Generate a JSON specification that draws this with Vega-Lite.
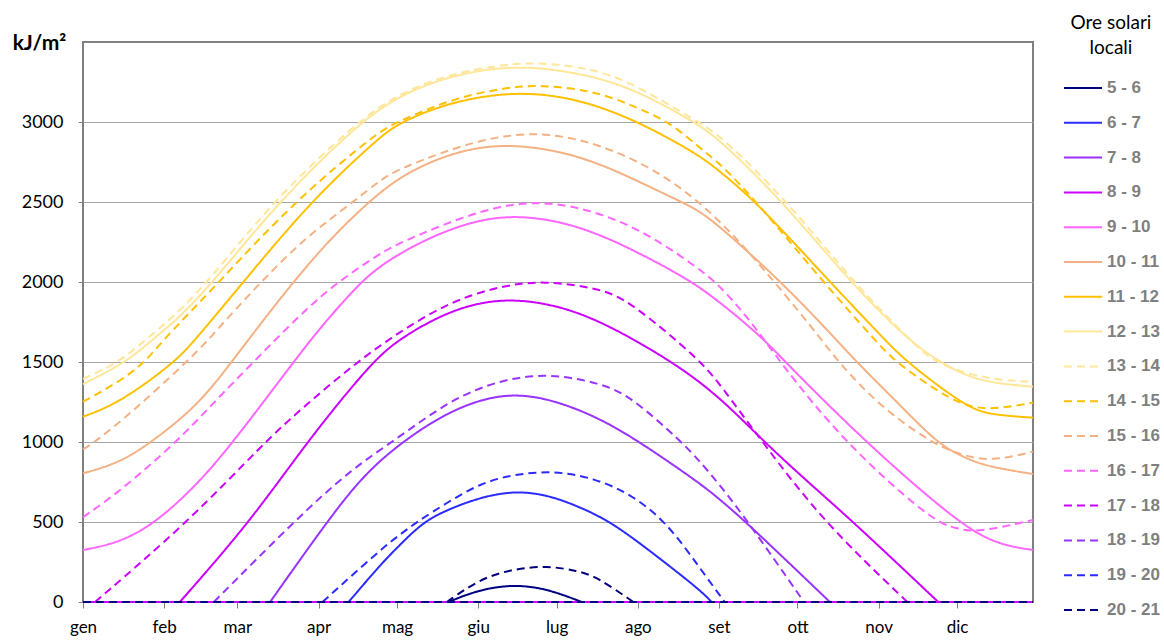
{
  "$schema": "https://vega.github.io/schema/vega-lite/v6.json",
  "width": 950,
  "height": 560,
  "autosize": {"type": "none"},
  "padding": {"left": 83, "top": 42, "right": 131, "bottom": 39},
  "background": "white",
  "config": {
    "view": {"stroke": "#808080", "strokeWidth": 2},
    "axis": {"labelFont": "Lato", "labelFontSize": 17, "labelColor": "#000000", "tickColor": "#808080", "domain": false}
  },
  "datasets": {
    "serie": [
      {"giorno": 1, "kJ": 0, "ore": "5 - 6", "tratto": "base"},
      {"giorno": 364, "kJ": 0, "ore": "5 - 6", "tratto": "base"},
      {"giorno": 140.6, "kJ": 0, "ore": "5 - 6", "tratto": "curva"},
      {"giorno": 152, "kJ": 75, "ore": "5 - 6", "tratto": "curva"},
      {"giorno": 165, "kJ": 110, "ore": "5 - 6", "tratto": "curva"},
      {"giorno": 178, "kJ": 85, "ore": "5 - 6", "tratto": "curva"},
      {"giorno": 191.6, "kJ": 0, "ore": "5 - 6", "tratto": "curva"},

      {"giorno": 1, "kJ": 0, "ore": "6 - 7", "tratto": "base"},
      {"giorno": 364, "kJ": 0, "ore": "6 - 7", "tratto": "base"},
      {"giorno": 102.5, "kJ": 0, "ore": "6 - 7", "tratto": "curva"},
      {"giorno": 114.5, "kJ": 231, "ore": "6 - 7", "tratto": "curva"},
      {"giorno": 122, "kJ": 356, "ore": "6 - 7", "tratto": "curva"},
      {"giorno": 131, "kJ": 500, "ore": "6 - 7", "tratto": "curva"},
      {"giorno": 140, "kJ": 575, "ore": "6 - 7", "tratto": "curva"},
      {"giorno": 152, "kJ": 650, "ore": "6 - 7", "tratto": "curva"},
      {"giorno": 165.3, "kJ": 695, "ore": "6 - 7", "tratto": "curva"},
      {"giorno": 178, "kJ": 672, "ore": "6 - 7", "tratto": "curva"},
      {"giorno": 190, "kJ": 600, "ore": "6 - 7", "tratto": "curva"},
      {"giorno": 203, "kJ": 500, "ore": "6 - 7", "tratto": "curva"},
      {"giorno": 220, "kJ": 290, "ore": "6 - 7", "tratto": "curva"},
      {"giorno": 236.8, "kJ": 75, "ore": "6 - 7", "tratto": "curva"},
      {"giorno": 241.2, "kJ": 0, "ore": "6 - 7", "tratto": "curva"},

      {"giorno": 1, "kJ": 0, "ore": "7 - 8", "tratto": "base"},
      {"giorno": 364, "kJ": 0, "ore": "7 - 8", "tratto": "base"},
      {"giorno": 72.5, "kJ": 0, "ore": "7 - 8", "tratto": "curva"},
      {"giorno": 94.1, "kJ": 500, "ore": "7 - 8", "tratto": "curva"},
      {"giorno": 108, "kJ": 790, "ore": "7 - 8", "tratto": "curva"},
      {"giorno": 122.1, "kJ": 992, "ore": "7 - 8", "tratto": "curva"},
      {"giorno": 141.2, "kJ": 1200, "ore": "7 - 8", "tratto": "curva"},
      {"giorno": 161.5, "kJ": 1310, "ore": "7 - 8", "tratto": "curva"},
      {"giorno": 179.5, "kJ": 1273, "ore": "7 - 8", "tratto": "curva"},
      {"giorno": 198.6, "kJ": 1148, "ore": "7 - 8", "tratto": "curva"},
      {"giorno": 213.8, "kJ": 1000, "ore": "7 - 8", "tratto": "curva"},
      {"giorno": 236.8, "kJ": 742, "ore": "7 - 8", "tratto": "curva"},
      {"giorno": 244.4, "kJ": 640, "ore": "7 - 8", "tratto": "curva"},
      {"giorno": 254.4, "kJ": 500, "ore": "7 - 8", "tratto": "curva"},
      {"giorno": 286.4, "kJ": 0, "ore": "7 - 8", "tratto": "curva"},

      {"giorno": 1, "kJ": 0, "ore": "8 - 9", "tratto": "base"},
      {"giorno": 364, "kJ": 0, "ore": "8 - 9", "tratto": "base"},
      {"giorno": 38, "kJ": 0, "ore": "8 - 9", "tratto": "curva"},
      {"giorno": 64.8, "kJ": 500, "ore": "8 - 9", "tratto": "curva"},
      {"giorno": 86.5, "kJ": 1000, "ore": "8 - 9", "tratto": "curva"},
      {"giorno": 111.3, "kJ": 1500, "ore": "8 - 9", "tratto": "curva"},
      {"giorno": 122.1, "kJ": 1648, "ore": "8 - 9", "tratto": "curva"},
      {"giorno": 141.2, "kJ": 1825, "ore": "8 - 9", "tratto": "curva"},
      {"giorno": 160.3, "kJ": 1900, "ore": "8 - 9", "tratto": "curva"},
      {"giorno": 179.5, "kJ": 1867, "ore": "8 - 9", "tratto": "curva"},
      {"giorno": 198.6, "kJ": 1762, "ore": "8 - 9", "tratto": "curva"},
      {"giorno": 226.6, "kJ": 1500, "ore": "8 - 9", "tratto": "curva"},
      {"giorno": 244.4, "kJ": 1280, "ore": "8 - 9", "tratto": "curva"},
      {"giorno": 261.3, "kJ": 1000, "ore": "8 - 9", "tratto": "curva"},
      {"giorno": 278, "kJ": 750, "ore": "8 - 9", "tratto": "curva"},
      {"giorno": 295.4, "kJ": 500, "ore": "8 - 9", "tratto": "curva"},
      {"giorno": 327.8, "kJ": 0, "ore": "8 - 9", "tratto": "curva"},

      {"giorno": 1, "kJ": 325, "ore": "9 - 10", "tratto": "curva"},
      {"giorno": 15, "kJ": 370, "ore": "9 - 10", "tratto": "curva"},
      {"giorno": 29.2, "kJ": 500, "ore": "9 - 10", "tratto": "curva"},
      {"giorno": 45, "kJ": 740, "ore": "9 - 10", "tratto": "curva"},
      {"giorno": 58.5, "kJ": 1000, "ore": "9 - 10", "tratto": "curva"},
      {"giorno": 83.9, "kJ": 1554, "ore": "9 - 10", "tratto": "curva"},
      {"giorno": 94.1, "kJ": 1762, "ore": "9 - 10", "tratto": "curva"},
      {"giorno": 106.1, "kJ": 1980, "ore": "9 - 10", "tratto": "curva"},
      {"giorno": 112.6, "kJ": 2075, "ore": "9 - 10", "tratto": "curva"},
      {"giorno": 122, "kJ": 2181, "ore": "9 - 10", "tratto": "curva"},
      {"giorno": 140, "kJ": 2330, "ore": "9 - 10", "tratto": "curva"},
      {"giorno": 162.9, "kJ": 2435, "ore": "9 - 10", "tratto": "curva"},
      {"giorno": 190.9, "kJ": 2360, "ore": "9 - 10", "tratto": "curva"},
      {"giorno": 216.4, "kJ": 2158, "ore": "9 - 10", "tratto": "curva"},
      {"giorno": 230, "kJ": 2035, "ore": "9 - 10", "tratto": "curva"},
      {"giorno": 236.8, "kJ": 1964, "ore": "9 - 10", "tratto": "curva"},
      {"giorno": 244.4, "kJ": 1873, "ore": "9 - 10", "tratto": "curva"},
      {"giorno": 260.3, "kJ": 1658, "ore": "9 - 10", "tratto": "curva"},
      {"giorno": 269.3, "kJ": 1500, "ore": "9 - 10", "tratto": "curva"},
      {"giorno": 299.9, "kJ": 1000, "ore": "9 - 10", "tratto": "curva"},
      {"giorno": 334.9, "kJ": 500, "ore": "9 - 10", "tratto": "curva"},
      {"giorno": 350, "kJ": 360, "ore": "9 - 10", "tratto": "curva"},
      {"giorno": 364, "kJ": 325, "ore": "9 - 10", "tratto": "curva"},

      {"giorno": 1, "kJ": 804, "ore": "10 - 11", "tratto": "curva"},
      {"giorno": 15, "kJ": 870, "ore": "10 - 11", "tratto": "curva"},
      {"giorno": 27.3, "kJ": 1000, "ore": "10 - 11", "tratto": "curva"},
      {"giorno": 45, "kJ": 1230, "ore": "10 - 11", "tratto": "curva"},
      {"giorno": 57.8, "kJ": 1500, "ore": "10 - 11", "tratto": "curva"},
      {"giorno": 69.9, "kJ": 1762, "ore": "10 - 11", "tratto": "curva"},
      {"giorno": 81.4, "kJ": 2000, "ore": "10 - 11", "tratto": "curva"},
      {"giorno": 95, "kJ": 2262, "ore": "10 - 11", "tratto": "curva"},
      {"giorno": 109.4, "kJ": 2490, "ore": "10 - 11", "tratto": "curva"},
      {"giorno": 122, "kJ": 2660, "ore": "10 - 11", "tratto": "curva"},
      {"giorno": 140, "kJ": 2800, "ore": "10 - 11", "tratto": "curva"},
      {"giorno": 161.5, "kJ": 2875, "ore": "10 - 11", "tratto": "curva"},
      {"giorno": 190.9, "kJ": 2800, "ore": "10 - 11", "tratto": "curva"},
      {"giorno": 216.4, "kJ": 2604, "ore": "10 - 11", "tratto": "curva"},
      {"giorno": 229.8, "kJ": 2500, "ore": "10 - 11", "tratto": "curva"},
      {"giorno": 236.8, "kJ": 2440, "ore": "10 - 11", "tratto": "curva"},
      {"giorno": 244.4, "kJ": 2346, "ore": "10 - 11", "tratto": "curva"},
      {"giorno": 268, "kJ": 2000, "ore": "10 - 11", "tratto": "curva"},
      {"giorno": 289, "kJ": 1637, "ore": "10 - 11", "tratto": "curva"},
      {"giorno": 296.6, "kJ": 1500, "ore": "10 - 11", "tratto": "curva"},
      {"giorno": 312, "kJ": 1250, "ore": "10 - 11", "tratto": "curva"},
      {"giorno": 327, "kJ": 1000, "ore": "10 - 11", "tratto": "curva"},
      {"giorno": 335, "kJ": 925, "ore": "10 - 11", "tratto": "curva"},
      {"giorno": 345, "kJ": 850, "ore": "10 - 11", "tratto": "curva"},
      {"giorno": 364, "kJ": 800, "ore": "10 - 11", "tratto": "curva"},

      {"giorno": 1, "kJ": 1158, "ore": "11 - 12", "tratto": "curva"},
      {"giorno": 15, "kJ": 1245, "ore": "11 - 12", "tratto": "curva"},
      {"giorno": 36.2, "kJ": 1500, "ore": "11 - 12", "tratto": "curva"},
      {"giorno": 43.8, "kJ": 1637, "ore": "11 - 12", "tratto": "curva"},
      {"giorno": 62.3, "kJ": 2000, "ore": "11 - 12", "tratto": "curva"},
      {"giorno": 87.7, "kJ": 2500, "ore": "11 - 12", "tratto": "curva"},
      {"giorno": 114.5, "kJ": 2910, "ore": "11 - 12", "tratto": "curva"},
      {"giorno": 122, "kJ": 2995, "ore": "11 - 12", "tratto": "curva"},
      {"giorno": 140, "kJ": 3120, "ore": "11 - 12", "tratto": "curva"},
      {"giorno": 165.3, "kJ": 3195, "ore": "11 - 12", "tratto": "curva"},
      {"giorno": 190, "kJ": 3150, "ore": "11 - 12", "tratto": "curva"},
      {"giorno": 213.8, "kJ": 3000, "ore": "11 - 12", "tratto": "curva"},
      {"giorno": 236.8, "kJ": 2790, "ore": "11 - 12", "tratto": "curva"},
      {"giorno": 244.4, "kJ": 2690, "ore": "11 - 12", "tratto": "curva"},
      {"giorno": 258.4, "kJ": 2500, "ore": "11 - 12", "tratto": "curva"},
      {"giorno": 286.4, "kJ": 2000, "ore": "11 - 12", "tratto": "curva"},
      {"giorno": 307.5, "kJ": 1637, "ore": "11 - 12", "tratto": "curva"},
      {"giorno": 315.7, "kJ": 1500, "ore": "11 - 12", "tratto": "curva"},
      {"giorno": 338.7, "kJ": 1215, "ore": "11 - 12", "tratto": "curva"},
      {"giorno": 348, "kJ": 1170, "ore": "11 - 12", "tratto": "curva"},
      {"giorno": 364, "kJ": 1152, "ore": "11 - 12", "tratto": "curva"},

      {"giorno": 1, "kJ": 1362, "ore": "12 - 13", "tratto": "curva"},
      {"giorno": 17.7, "kJ": 1500, "ore": "12 - 13", "tratto": "curva"},
      {"giorno": 27.3, "kJ": 1637, "ore": "12 - 13", "tratto": "curva"},
      {"giorno": 36.8, "kJ": 1762, "ore": "12 - 13", "tratto": "curva"},
      {"giorno": 50.8, "kJ": 2000, "ore": "12 - 13", "tratto": "curva"},
      {"giorno": 75.5, "kJ": 2500, "ore": "12 - 13", "tratto": "curva"},
      {"giorno": 106.8, "kJ": 3000, "ore": "12 - 13", "tratto": "curva"},
      {"giorno": 122, "kJ": 3165, "ore": "12 - 13", "tratto": "curva"},
      {"giorno": 140, "kJ": 3285, "ore": "12 - 13", "tratto": "curva"},
      {"giorno": 165, "kJ": 3360, "ore": "12 - 13", "tratto": "curva"},
      {"giorno": 190, "kJ": 3310, "ore": "12 - 13", "tratto": "curva"},
      {"giorno": 210, "kJ": 3220, "ore": "12 - 13", "tratto": "curva"},
      {"giorno": 234.9, "kJ": 3000, "ore": "12 - 13", "tratto": "curva"},
      {"giorno": 244.4, "kJ": 2888, "ore": "12 - 13", "tratto": "curva"},
      {"giorno": 268.6, "kJ": 2500, "ore": "12 - 13", "tratto": "curva"},
      {"giorno": 294.1, "kJ": 2000, "ore": "12 - 13", "tratto": "curva"},
      {"giorno": 316.2, "kJ": 1637, "ore": "12 - 13", "tratto": "curva"},
      {"giorno": 328.5, "kJ": 1500, "ore": "12 - 13", "tratto": "curva"},
      {"giorno": 338.7, "kJ": 1410, "ore": "12 - 13", "tratto": "curva"},
      {"giorno": 350, "kJ": 1365, "ore": "12 - 13", "tratto": "curva"},
      {"giorno": 364, "kJ": 1346, "ore": "12 - 13", "tratto": "curva"},

      {"giorno": 1, "kJ": 1395, "ore": "13 - 14", "tratto": "curva"},
      {"giorno": 15, "kJ": 1500, "ore": "13 - 14", "tratto": "curva"},
      {"giorno": 24.7, "kJ": 1637, "ore": "13 - 14", "tratto": "curva"},
      {"giorno": 34.2, "kJ": 1762, "ore": "13 - 14", "tratto": "curva"},
      {"giorno": 48.9, "kJ": 2000, "ore": "13 - 14", "tratto": "curva"},
      {"giorno": 73.1, "kJ": 2500, "ore": "13 - 14", "tratto": "curva"},
      {"giorno": 105.6, "kJ": 3000, "ore": "13 - 14", "tratto": "curva"},
      {"giorno": 122, "kJ": 3179, "ore": "13 - 14", "tratto": "curva"},
      {"giorno": 140, "kJ": 3295, "ore": "13 - 14", "tratto": "curva"},
      {"giorno": 160, "kJ": 3355, "ore": "13 - 14", "tratto": "curva"},
      {"giorno": 174.5, "kJ": 3375, "ore": "13 - 14", "tratto": "curva"},
      {"giorno": 196, "kJ": 3335, "ore": "13 - 14", "tratto": "curva"},
      {"giorno": 212, "kJ": 3235, "ore": "13 - 14", "tratto": "curva"},
      {"giorno": 236, "kJ": 3000, "ore": "13 - 14", "tratto": "curva"},
      {"giorno": 244.4, "kJ": 2919, "ore": "13 - 14", "tratto": "curva"},
      {"giorno": 270.4, "kJ": 2500, "ore": "13 - 14", "tratto": "curva"},
      {"giorno": 295.2, "kJ": 2000, "ore": "13 - 14", "tratto": "curva"},
      {"giorno": 317, "kJ": 1637, "ore": "13 - 14", "tratto": "curva"},
      {"giorno": 325.8, "kJ": 1500, "ore": "13 - 14", "tratto": "curva"},
      {"giorno": 340, "kJ": 1420, "ore": "13 - 14", "tratto": "curva"},
      {"giorno": 352, "kJ": 1385, "ore": "13 - 14", "tratto": "curva"},
      {"giorno": 364, "kJ": 1377, "ore": "13 - 14", "tratto": "curva"},

      {"giorno": 1, "kJ": 1252, "ore": "14 - 15", "tratto": "curva"},
      {"giorno": 15, "kJ": 1377, "ore": "14 - 15", "tratto": "curva"},
      {"giorno": 24.7, "kJ": 1500, "ore": "14 - 15", "tratto": "curva"},
      {"giorno": 31.7, "kJ": 1637, "ore": "14 - 15", "tratto": "curva"},
      {"giorno": 39, "kJ": 1762, "ore": "14 - 15", "tratto": "curva"},
      {"giorno": 53, "kJ": 2000, "ore": "14 - 15", "tratto": "curva"},
      {"giorno": 81.4, "kJ": 2500, "ore": "14 - 15", "tratto": "curva"},
      {"giorno": 114.5, "kJ": 2950, "ore": "14 - 15", "tratto": "curva"},
      {"giorno": 121.5, "kJ": 3000, "ore": "14 - 15", "tratto": "curva"},
      {"giorno": 140, "kJ": 3135, "ore": "14 - 15", "tratto": "curva"},
      {"giorno": 160, "kJ": 3210, "ore": "14 - 15", "tratto": "curva"},
      {"giorno": 175.6, "kJ": 3235, "ore": "14 - 15", "tratto": "curva"},
      {"giorno": 196, "kJ": 3195, "ore": "14 - 15", "tratto": "curva"},
      {"giorno": 210, "kJ": 3110, "ore": "14 - 15", "tratto": "curva"},
      {"giorno": 225.3, "kJ": 3000, "ore": "14 - 15", "tratto": "curva"},
      {"giorno": 236.8, "kJ": 2835, "ore": "14 - 15", "tratto": "curva"},
      {"giorno": 244.4, "kJ": 2742, "ore": "14 - 15", "tratto": "curva"},
      {"giorno": 258.5, "kJ": 2500, "ore": "14 - 15", "tratto": "curva"},
      {"giorno": 283.8, "kJ": 2000, "ore": "14 - 15", "tratto": "curva"},
      {"giorno": 303.6, "kJ": 1637, "ore": "14 - 15", "tratto": "curva"},
      {"giorno": 311.3, "kJ": 1500, "ore": "14 - 15", "tratto": "curva"},
      {"giorno": 330, "kJ": 1290, "ore": "14 - 15", "tratto": "curva"},
      {"giorno": 338.7, "kJ": 1225, "ore": "14 - 15", "tratto": "curva"},
      {"giorno": 348, "kJ": 1200, "ore": "14 - 15", "tratto": "curva"},
      {"giorno": 364, "kJ": 1246, "ore": "14 - 15", "tratto": "curva"},

      {"giorno": 1, "kJ": 954, "ore": "15 - 16", "tratto": "curva"},
      {"giorno": 5.6, "kJ": 1000, "ore": "15 - 16", "tratto": "curva"},
      {"giorno": 20, "kJ": 1190, "ore": "15 - 16", "tratto": "curva"},
      {"giorno": 40.6, "kJ": 1500, "ore": "15 - 16", "tratto": "curva"},
      {"giorno": 48.9, "kJ": 1637, "ore": "15 - 16", "tratto": "curva"},
      {"giorno": 55.5, "kJ": 1762, "ore": "15 - 16", "tratto": "curva"},
      {"giorno": 69, "kJ": 2000, "ore": "15 - 16", "tratto": "curva"},
      {"giorno": 86, "kJ": 2280, "ore": "15 - 16", "tratto": "curva"},
      {"giorno": 104.3, "kJ": 2500, "ore": "15 - 16", "tratto": "curva"},
      {"giorno": 114.5, "kJ": 2637, "ore": "15 - 16", "tratto": "curva"},
      {"giorno": 122, "kJ": 2710, "ore": "15 - 16", "tratto": "curva"},
      {"giorno": 152.7, "kJ": 2900, "ore": "15 - 16", "tratto": "curva"},
      {"giorno": 179.5, "kJ": 2950, "ore": "15 - 16", "tratto": "curva"},
      {"giorno": 210, "kJ": 2800, "ore": "15 - 16", "tratto": "curva"},
      {"giorno": 238.7, "kJ": 2500, "ore": "15 - 16", "tratto": "curva"},
      {"giorno": 265.4, "kJ": 2000, "ore": "15 - 16", "tratto": "curva"},
      {"giorno": 283.4, "kJ": 1637, "ore": "15 - 16", "tratto": "curva"},
      {"giorno": 289.6, "kJ": 1500, "ore": "15 - 16", "tratto": "curva"},
      {"giorno": 305, "kJ": 1230, "ore": "15 - 16", "tratto": "curva"},
      {"giorno": 324.6, "kJ": 1000, "ore": "15 - 16", "tratto": "curva"},
      {"giorno": 336, "kJ": 920, "ore": "15 - 16", "tratto": "curva"},
      {"giorno": 348, "kJ": 877, "ore": "15 - 16", "tratto": "curva"},
      {"giorno": 364, "kJ": 940, "ore": "15 - 16", "tratto": "curva"},

      {"giorno": 1, "kJ": 530, "ore": "16 - 17", "tratto": "curva"},
      {"giorno": 15, "kJ": 690, "ore": "16 - 17", "tratto": "curva"},
      {"giorno": 36.8, "kJ": 1000, "ore": "16 - 17", "tratto": "curva"},
      {"giorno": 50, "kJ": 1230, "ore": "16 - 17", "tratto": "curva"},
      {"giorno": 66.1, "kJ": 1500, "ore": "16 - 17", "tratto": "curva"},
      {"giorno": 83.9, "kJ": 1794, "ore": "16 - 17", "tratto": "curva"},
      {"giorno": 96.6, "kJ": 1980, "ore": "16 - 17", "tratto": "curva"},
      {"giorno": 114.5, "kJ": 2180, "ore": "16 - 17", "tratto": "curva"},
      {"giorno": 122, "kJ": 2245, "ore": "16 - 17", "tratto": "curva"},
      {"giorno": 152.7, "kJ": 2455, "ore": "16 - 17", "tratto": "curva"},
      {"giorno": 178.2, "kJ": 2525, "ore": "16 - 17", "tratto": "curva"},
      {"giorno": 210, "kJ": 2380, "ore": "16 - 17", "tratto": "curva"},
      {"giorno": 236.8, "kJ": 2080, "ore": "16 - 17", "tratto": "curva"},
      {"giorno": 244.4, "kJ": 1975, "ore": "16 - 17", "tratto": "curva"},
      {"giorno": 256, "kJ": 1760, "ore": "16 - 17", "tratto": "curva"},
      {"giorno": 267.3, "kJ": 1500, "ore": "16 - 17", "tratto": "curva"},
      {"giorno": 291.6, "kJ": 1000, "ore": "16 - 17", "tratto": "curva"},
      {"giorno": 325.9, "kJ": 500, "ore": "16 - 17", "tratto": "curva"},
      {"giorno": 334.8, "kJ": 460, "ore": "16 - 17", "tratto": "curva"},
      {"giorno": 342.5, "kJ": 433, "ore": "16 - 17", "tratto": "curva"},
      {"giorno": 364, "kJ": 512, "ore": "16 - 17", "tratto": "curva"},

      {"giorno": 1, "kJ": 0, "ore": "17 - 18", "tratto": "base"},
      {"giorno": 364, "kJ": 0, "ore": "17 - 18", "tratto": "base"},
      {"giorno": 5.6, "kJ": 0, "ore": "17 - 18", "tratto": "curva"},
      {"giorno": 41.2, "kJ": 500, "ore": "17 - 18", "tratto": "curva"},
      {"giorno": 70.5, "kJ": 1000, "ore": "17 - 18", "tratto": "curva"},
      {"giorno": 83.9, "kJ": 1200, "ore": "17 - 18", "tratto": "curva"},
      {"giorno": 105.6, "kJ": 1500, "ore": "17 - 18", "tratto": "curva"},
      {"giorno": 122.1, "kJ": 1690, "ore": "17 - 18", "tratto": "curva"},
      {"giorno": 141.2, "kJ": 1877, "ore": "17 - 18", "tratto": "curva"},
      {"giorno": 160.3, "kJ": 1975, "ore": "17 - 18", "tratto": "curva"},
      {"giorno": 176.9, "kJ": 2010, "ore": "17 - 18", "tratto": "curva"},
      {"giorno": 198.6, "kJ": 1960, "ore": "17 - 18", "tratto": "curva"},
      {"giorno": 210, "kJ": 1880, "ore": "17 - 18", "tratto": "curva"},
      {"giorno": 236.8, "kJ": 1512, "ore": "17 - 18", "tratto": "curva"},
      {"giorno": 244.4, "kJ": 1360, "ore": "17 - 18", "tratto": "curva"},
      {"giorno": 260.6, "kJ": 1000, "ore": "17 - 18", "tratto": "curva"},
      {"giorno": 283.9, "kJ": 500, "ore": "17 - 18", "tratto": "curva"},
      {"giorno": 316, "kJ": 0, "ore": "17 - 18", "tratto": "curva"},

      {"giorno": 1, "kJ": 0, "ore": "18 - 19", "tratto": "base"},
      {"giorno": 364, "kJ": 0, "ore": "18 - 19", "tratto": "base"},
      {"giorno": 51, "kJ": 0, "ore": "18 - 19", "tratto": "curva"},
      {"giorno": 81.4, "kJ": 500, "ore": "18 - 19", "tratto": "curva"},
      {"giorno": 103, "kJ": 825, "ore": "18 - 19", "tratto": "curva"},
      {"giorno": 122.1, "kJ": 1033, "ore": "18 - 19", "tratto": "curva"},
      {"giorno": 141.2, "kJ": 1262, "ore": "18 - 19", "tratto": "curva"},
      {"giorno": 160.3, "kJ": 1390, "ore": "18 - 19", "tratto": "curva"},
      {"giorno": 179.5, "kJ": 1430, "ore": "18 - 19", "tratto": "curva"},
      {"giorno": 198.6, "kJ": 1367, "ore": "18 - 19", "tratto": "curva"},
      {"giorno": 210, "kJ": 1290, "ore": "18 - 19", "tratto": "curva"},
      {"giorno": 229.8, "kJ": 1000, "ore": "18 - 19", "tratto": "curva"},
      {"giorno": 236.8, "kJ": 877, "ore": "18 - 19", "tratto": "curva"},
      {"giorno": 244.4, "kJ": 730, "ore": "18 - 19", "tratto": "curva"},
      {"giorno": 255.2, "kJ": 500, "ore": "18 - 19", "tratto": "curva"},
      {"giorno": 276.5, "kJ": 0, "ore": "18 - 19", "tratto": "curva"},

      {"giorno": 1, "kJ": 0, "ore": "19 - 20", "tratto": "base"},
      {"giorno": 364, "kJ": 0, "ore": "19 - 20", "tratto": "base"},
      {"giorno": 92.5, "kJ": 0, "ore": "19 - 20", "tratto": "curva"},
      {"giorno": 114.5, "kJ": 325, "ore": "19 - 20", "tratto": "curva"},
      {"giorno": 122, "kJ": 420, "ore": "19 - 20", "tratto": "curva"},
      {"giorno": 128.5, "kJ": 500, "ore": "19 - 20", "tratto": "curva"},
      {"giorno": 140, "kJ": 620, "ore": "19 - 20", "tratto": "curva"},
      {"giorno": 152.7, "kJ": 742, "ore": "19 - 20", "tratto": "curva"},
      {"giorno": 166, "kJ": 800, "ore": "19 - 20", "tratto": "curva"},
      {"giorno": 181.4, "kJ": 820, "ore": "19 - 20", "tratto": "curva"},
      {"giorno": 196, "kJ": 775, "ore": "19 - 20", "tratto": "curva"},
      {"giorno": 210, "kJ": 679, "ore": "19 - 20", "tratto": "curva"},
      {"giorno": 224, "kJ": 500, "ore": "19 - 20", "tratto": "curva"},
      {"giorno": 236.8, "kJ": 210, "ore": "19 - 20", "tratto": "curva"},
      {"giorno": 246.2, "kJ": 0, "ore": "19 - 20", "tratto": "curva"},

      {"giorno": 1, "kJ": 0, "ore": "20 - 21", "tratto": "base"},
      {"giorno": 364, "kJ": 0, "ore": "20 - 21", "tratto": "base"},
      {"giorno": 140, "kJ": 0, "ore": "20 - 21", "tratto": "curva"},
      {"giorno": 152.7, "kJ": 145, "ore": "20 - 21", "tratto": "curva"},
      {"giorno": 165, "kJ": 205, "ore": "20 - 21", "tratto": "curva"},
      {"giorno": 178.2, "kJ": 228, "ore": "20 - 21", "tratto": "curva"},
      {"giorno": 190, "kJ": 195, "ore": "20 - 21", "tratto": "curva"},
      {"giorno": 197.3, "kJ": 158, "ore": "20 - 21", "tratto": "curva"},
      {"giorno": 211.3, "kJ": 0, "ore": "20 - 21", "tratto": "curva"}
    ]
  },
  "data": {"name": "serie"},
  "mark": {"type": "line", "interpolate": "basis", "strokeWidth": 2},
  "encoding": {
    "x": {
      "field": "giorno",
      "type": "quantitative",
      "scale": {"domain": [1, 364], "nice": false, "zero": false},
      "axis": {
        "values": [1, 32, 60, 91, 121, 152, 182, 213, 244, 274, 305, 335],
        "labelExpr": "['gen','feb','mar','apr','mag','giu','lug','ago','set','ott','nov','dic'][indexof([1,32,60,91,121,152,182,213,244,274,305,335], datum.value)]",
        "grid": false,
        "title": null,
        "tickSize": 6,
        "labelPadding": 11,
        "labelFontSize": 17,
        "labelFlush": false,
        "labelOverlap": false
      }
    },
    "y": {
      "field": "kJ",
      "type": "quantitative",
      "scale": {"domain": [0, 3500], "nice": false},
      "axis": {
        "values": [0, 500, 1000, 1500, 2000, 2500, 3000],
        "format": "d",
        "grid": true,
        "gridColor": "#a6a6a6",
        "gridWidth": 1,
        "tickSize": 5,
        "labelPadding": 15,
        "labelFontSize": 18,
        "title": "kJ/m²",
        "titleAngle": 0,
        "titleX": -44,
        "titleY": 1,
        "titleAlign": "center",
        "titleBaseline": "middle",
        "titleFont": "Lato",
        "titleFontSize": 21,
        "titleFontWeight": "bold",
        "titleColor": "#000000"
      }
    },
    "color": {
      "field": "ore",
      "type": "nominal",
      "scale": {
        "domain": ["5 - 6", "6 - 7", "7 - 8", "8 - 9", "9 - 10", "10 - 11", "11 - 12", "12 - 13", "13 - 14", "14 - 15", "15 - 16", "16 - 17", "17 - 18", "18 - 19", "19 - 20", "20 - 21"],
        "range": ["#000080", "#2B2BFF", "#9933FF", "#CC00FF", "#FF66FF", "#F4B183", "#FFC000", "#FFE699", "#FFE699", "#FFC000", "#F4B183", "#FF66FF", "#CC00FF", "#9933FF", "#2B2BFF", "#000080"]
      },
      "legend": {
        "title": ["Ore solari", "locali"],
        "orient": "none",
        "legendX": 980,
        "legendY": -28,
        "padding": 0,
        "symbolType": "stroke",
        "symbolSize": 1444,
        "symbolStrokeWidth": 2,
        "clipHeight": 20,
        "rowPadding": 14.8,
        "labelFont": "Liberation Sans",
        "labelFontWeight": "bold",
        "labelFontSize": 17,
        "labelColor": "#7f7f7f",
        "labelOffset": 4,
        "titleFont": "Lato",
        "titleFontSize": 19,
        "titleFontWeight": "normal",
        "titleColor": "#000000",
        "titleAnchor": "middle",
        "titleAlign": "center",
        "titleLineHeight": 25,
        "titlePadding": 20
      }
    },
    "strokeDash": {
      "field": "ore",
      "type": "nominal",
      "scale": {
        "domain": ["5 - 6", "6 - 7", "7 - 8", "8 - 9", "9 - 10", "10 - 11", "11 - 12", "12 - 13", "13 - 14", "14 - 15", "15 - 16", "16 - 17", "17 - 18", "18 - 19", "19 - 20", "20 - 21"],
        "range": [[1, 0], [1, 0], [1, 0], [1, 0], [1, 0], [1, 0], [1, 0], [1, 0], [8, 5], [8, 5], [8, 5], [8, 5], [8, 5], [8, 5], [8, 5], [8, 5]]
      },
      "legend": {
        "title": ["Ore solari", "locali"],
        "orient": "none",
        "legendX": 980,
        "legendY": -28,
        "padding": 0,
        "symbolType": "stroke",
        "symbolSize": 1444,
        "symbolStrokeWidth": 2,
        "clipHeight": 20,
        "rowPadding": 14.8,
        "labelFont": "Liberation Sans",
        "labelFontWeight": "bold",
        "labelFontSize": 17,
        "labelColor": "#7f7f7f",
        "labelOffset": 4,
        "titleFont": "Lato",
        "titleFontSize": 19,
        "titleFontWeight": "normal",
        "titleColor": "#000000",
        "titleAnchor": "middle",
        "titleAlign": "center",
        "titleLineHeight": 25,
        "titlePadding": 20
      }
    },
    "detail": {"field": "tratto", "type": "nominal"}
  }
}
